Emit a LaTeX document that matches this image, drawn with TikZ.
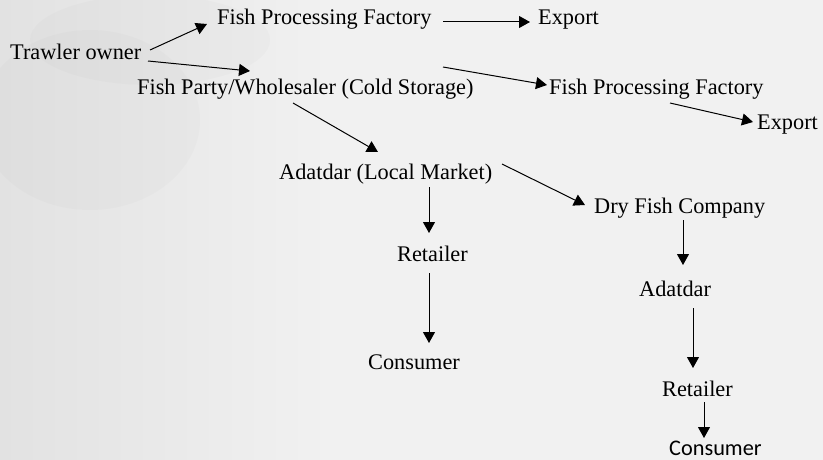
\documentclass[tikz,border=0pt]{standalone}
\usepackage{fontspec}
\setmainfont{Liberation Serif}
\newfontfamily\calib{Carlito}
\usetikzlibrary{arrows.meta}
\definecolor{bgbase}{RGB}{241,241,241}
\definecolor{bgdark}{RGB}{226,226,226}
\begin{document}
\begin{tikzpicture}[x=1pt,y=-1pt,
  lbl/.style={inner sep=0pt, anchor=base west, font=\fontsize{22.3}{24}\selectfont},
  arr/.style={line width=1pt, -{Triangle[length=11pt,width=12pt]}}]
\useasboundingbox (0,0) rectangle (823,460);
\fill[bgbase] (0,0) rectangle (823,460);
\shade[left color=bgdark, right color=bgbase] (0,0) rectangle (330,460);
\fill[gray, opacity=0.03] (90,120) ellipse (110 and 90);
\fill[gray, opacity=0.03] (150,40) ellipse (120 and 45);
% nodes
\node[lbl] (tr)   at (10,60)  {Trawler owner};
\node[lbl] (f1)   at (217,25) {Fish Processing Factory};
\node[lbl] (e1)   at (538,25) {Export};
\node[lbl] (ws)   at (137,95) {Fish Party/Wholesaler (Cold Storage)};
\node[lbl] (f2)   at (549,95) {Fish Processing Factory};
\node[lbl] (e2)   at (757,130) {Export};
\node[lbl] (adl)  at (279,179) {Adatdar (Local Market)};
\node[lbl] (df)   at (594,213) {Dry Fish Company};
\node[lbl] (retl) at (397,261) {Retailer};
\node[lbl] (conl) at (368,369) {Consumer};
\node[lbl] (adr)  at (639,296) {Adatdar};
\node[lbl] (retr) at (662,396) {Retailer};
\node[lbl, font=\calib\fontsize{22.3}{24}\selectfont] (conr) at (669,455) {Consumer};
% connectors
\draw[arr] ([shift={(140,-10)}]tr.base west) -- ([shift={(-10,-1)}]f1.base west);
\draw[arr] ([shift={(138,1)}]tr.base west) -- ([shift={(113,-24)}]ws.base west);
\draw[arr] ([shift={(226,-3)}]f1.base west) -- ([shift={(-8,-3)}]e1.base west);
\draw[arr] ([shift={(306,-28)}]ws.base west) -- ([shift={(-2,-10)}]f2.base west);
\draw[arr] ([shift={(121,8)}]f2.base west) -- ([shift={(-4,-8)}]e2.base west);
\draw[arr] ([shift={(156,8)}]ws.base west) -- ([shift={(99,-27)}]adl.base west);
\draw[arr] ([shift={(223,-15)}]adl.base west) -- ([shift={(-9,-8)}]df.base west);
\draw[arr] ([shift={(150,8)}]adl.base west) -- ([shift={(32,-28)}]retl.base west);
\draw[arr] ([shift={(32,12)}]retl.base west) -- ([shift={(61,-26)}]conl.base west);
\draw[arr] ([shift={(89,7)}]df.base west) -- ([shift={(44,-31)}]adr.base west);
\draw[arr] ([shift={(54,12)}]adr.base west) -- ([shift={(31,-28)}]retr.base west);
\draw[arr] ([shift={(42,6)}]retr.base west) -- ([shift={(35,-17)}]conr.base west);
\end{tikzpicture}
\end{document}
